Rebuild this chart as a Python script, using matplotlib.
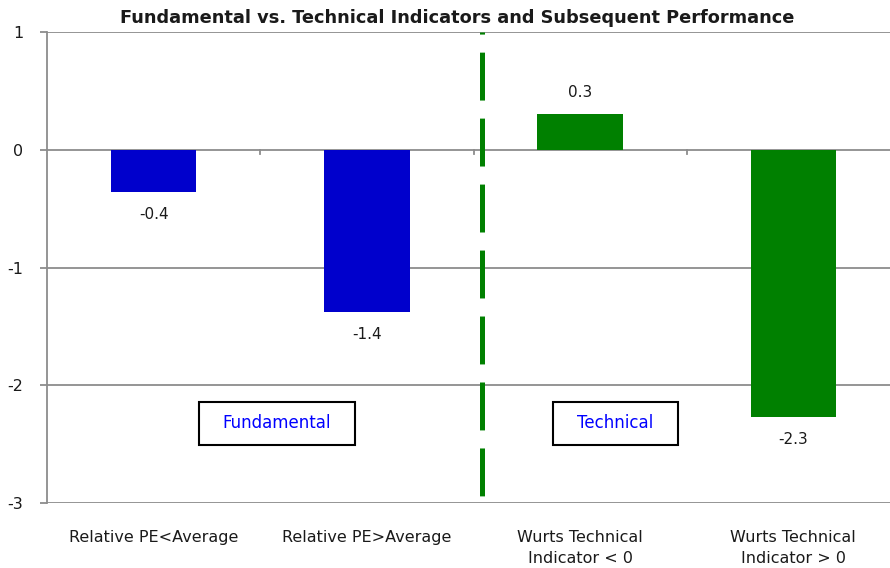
import matplotlib
matplotlib.use("Agg")
import matplotlib.pyplot as plt
import matplotlib.transforms as mtransforms
from matplotlib.patches import Rectangle

# values per indicator bucket
categories = ["Relative PE<Average", "Relative PE>Average",
              "Wurts Technical\nIndicator < 0", "Wurts Technical\nIndicator > 0"]
values = [-0.36, -1.38, 0.30, -2.27]
colors = ["#0000CC", "#0000CC", "#008000", "#008000"]
group_labels = ["Fundamental", "Technical"]
yticks = [1, 0, -1, -2, -3]

plt.rcParams["font.family"] = ["DejaVu Sans"]
plt.rcParams["lines.scale_dashes"] = False
plt.rcParams["axes.unicode_minus"] = False

fig = plt.figure(figsize=(8.9, 5.68), dpi=100)
ax = fig.add_axes([47 / 890, 65 / 568, 853 / 890, 471 / 568])
ax.set_xlim(-0.5, 3.5)
ax.set_ylim(-3, 1)

grey = "#8c8c8c"
txt = "#1a1a1a"
for y in yticks:
    ax.axhline(y, color=grey, lw=1.3, zorder=1)

xs = list(range(len(values)))
ax.bar(xs, values, width=0.4, color=colors, zorder=3)

for x, v in zip(xs, values):
    off = 0.19 if v > 0 else -0.19
    ax.text(x, v + off, f"{v:.1f}", ha="center", va="center",
            fontsize=11, color=txt, zorder=4)

# divider between fundamental and technical buckets
ax.plot([1.54, 1.54], [1.0, -2.94], color="#008000", lw=3.6,
        linestyle=(33, (34.5, 13)), solid_capstyle="butt", zorder=4)

# group captions in boxes
boxes = [(0.213, 0.944), (1.872, 2.458)]
for (x0, x1), lab in zip(boxes, group_labels):
    ax.add_patch(Rectangle((x0, -2.505), x1 - x0, 0.365, fc="white",
                           ec="black", lw=1.5, zorder=5))
    ax.text((x0 + x1) / 2, -2.318, lab, ha="center", va="center",
            fontsize=12, color="#0000FF", zorder=6)

for s in ["top", "right", "bottom"]:
    ax.spines[s].set_visible(False)
ax.spines["left"].set_color(grey)
ax.spines["left"].set_linewidth(1.3)

ax.set_yticks(yticks)
ax.tick_params(axis="y", length=5, width=1.3, color=grey, pad=12,
               labelsize=11.5, labelcolor=txt)

# small marks at the category boundaries along the zero line
ax.set_xticks([])
trans = mtransforms.blended_transform_factory(ax.transData, ax.transAxes)
for b in [0.5, 1.5, 2.5]:
    ax.plot([b, b], [0, -0.035], color=grey, lw=1.3, zorder=2)

for x, c in zip(xs, categories):
    ax.text(x, -0.058, c, transform=trans, ha="center", va="top",
            fontsize=11.5, color=txt, linespacing=1.45)

fig.text(0.514, 0.968, "Fundamental vs. Technical Indicators and Subsequent Performance",
         ha="center", va="center", fontsize=12.8, fontweight="bold", color=txt)

fig.savefig("out.png", dpi=100)
